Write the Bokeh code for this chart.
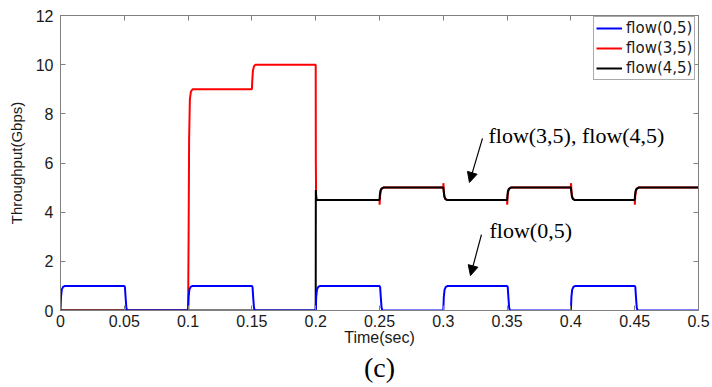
from bokeh.plotting import figure
from bokeh.models import (Range1d, LinearAxis, FixedTicker, Legend, LegendItem,
                          Label, Arrow, NormalHead, Title)
from bokeh.embed import file_html
from bokeh.resources import INLINE

# ---- data -------------------------------------------------------------
# flow(0,5): on/off pulses of 1 Gbps
t_f05 = [0, 0.0004, 0.001, 0.002, 0.0035,
         0.05, 0.0505, 0.051, 0.0516, 0.0522,
         0.1, 0.1004, 0.101, 0.102, 0.1035,
         0.15, 0.1505, 0.151, 0.1516, 0.1522,
         0.2, 0.2004, 0.201, 0.202, 0.2035,
         0.25, 0.2505, 0.251, 0.2516, 0.2522,
         0.3, 0.3004, 0.301, 0.302, 0.3035,
         0.35, 0.3505, 0.351, 0.3516, 0.3522,
         0.4, 0.4004, 0.401, 0.402, 0.4035,
         0.45, 0.4505, 0.451, 0.4516, 0.4522,
         0.5]
v_f05 = [0, 0.55, 0.85, 0.96, 1.0,
         1.0, 0.95, 0.55, 0.12, 0,
         0, 0.55, 0.85, 0.96, 1.0,
         1.0, 0.95, 0.55, 0.12, 0,
         0, 0.55, 0.85, 0.96, 1.0,
         1.0, 0.95, 0.55, 0.12, 0,
         0, 0.55, 0.85, 0.96, 1.0,
         1.0, 0.95, 0.55, 0.12, 0,
         0, 0.55, 0.85, 0.96, 1.0,
         1.0, 0.95, 0.55, 0.12, 0,
         0]

# flow(3,5)
t_f35 = [0, 0.1, 0.1004, 0.1008, 0.1014, 0.1022, 0.1035,
         0.15, 0.1503, 0.1508, 0.1516, 0.1528,
         0.2, 0.2001, 0.2003, 0.2006,
         0.25, 0.2501, 0.2504, 0.2509, 0.2517, 0.253,
         0.3, 0.3001, 0.3004, 0.3009, 0.3016, 0.3029,
         0.35, 0.3501, 0.3504, 0.3509, 0.3517, 0.353,
         0.4, 0.4001, 0.4004, 0.4009, 0.4016, 0.4029,
         0.45, 0.4501, 0.4504, 0.4509, 0.4517, 0.453,
         0.5]
v_f35 = [0, 0, 3.0, 7.0, 8.6, 8.9, 9.0,
         9.0, 9.35, 9.75, 9.93, 10.0,
         10.0, 6.1, 4.7, 4.5,
         4.5, 4.3, 4.62, 4.85, 4.95, 5.0,
         5.0, 5.18, 4.88, 4.64, 4.54, 4.5,
         4.5, 4.3, 4.62, 4.85, 4.95, 5.0,
         5.0, 5.18, 4.88, 4.64, 4.54, 4.5,
         4.5, 4.3, 4.62, 4.85, 4.95, 5.0,
         5.0]

# flow(4,5)
t_f45 = [0, 0.2, 0.2001, 0.2004, 0.2008,
         0.25, 0.2503, 0.2508, 0.2516, 0.253,
         0.3, 0.3003, 0.3008, 0.3015, 0.3028,
         0.35, 0.3503, 0.3508, 0.3516, 0.353,
         0.4, 0.4003, 0.4008, 0.4015, 0.4028,
         0.45, 0.4503, 0.4508, 0.4516, 0.453,
         0.5]
v_f45 = [0, 0, 4.9, 4.6, 4.5,
         4.5, 4.72, 4.88, 4.96, 5.0,
         5.0, 4.85, 4.64, 4.54, 4.5,
         4.5, 4.72, 4.88, 4.96, 5.0,
         5.0, 4.85, 4.64, 4.54, 4.5,
         4.5, 4.72, 4.88, 4.96, 5.0,
         5.0]

x_ticks = [0, 0.05, 0.1, 0.15, 0.2, 0.25, 0.3, 0.35, 0.4, 0.45, 0.5]
x_tick_labels = ["0", "0.05", "0.1", "0.15", "0.2", "0.25", "0.3", "0.35",
                 "0.4", "0.45", "0.5"]
y_ticks = [0, 2, 4, 6, 8, 10, 12]

series_names = ["flow(0,5)", "flow(3,5)", "flow(4,5)"]
note_upper = "flow(3,5), flow(4,5)"
note_lower = "flow(0,5)"
caption = "(c)"

# ---- styling ------------------------------------------------------------
SANS = "Liberation Sans"
SERIF = "Liberation Serif"
FRAME = "#808080"
TEXT = "#1a1a1a"

p = figure(width=712, height=387, output_backend="svg", toolbar_location=None,
           x_range=Range1d(0, 0.5), y_range=Range1d(0, 12),
           min_border_left=60, min_border_right=14,
           min_border_top=15, min_border_bottom=77,
           background_fill_color="white", border_fill_color="white")
p.grid.visible = False
p.outline_line_color = FRAME

xt = FixedTicker(ticks=x_ticks)
yt = FixedTicker(ticks=y_ticks)


def style_axis(ax, show_labels=True):
    ax.axis_line_color = FRAME
    ax.major_tick_line_color = FRAME
    ax.major_tick_in = 5
    ax.major_tick_out = 0
    ax.minor_tick_line_color = None
    ax.major_label_text_font = SANS
    ax.major_label_text_font_size = "16px"
    ax.major_label_text_color = TEXT
    ax.axis_label_text_font = SANS
    ax.axis_label_text_font_style = "normal"
    ax.axis_label_text_color = TEXT
    if not show_labels:
        ax.major_label_text_font_size = "0px"
        ax.major_label_standoff = 0


xa = p.xaxis[0]
xa.ticker = xt
xa.major_label_overrides = {t: s for t, s in zip(x_ticks, x_tick_labels)}
style_axis(xa)
xa.major_label_standoff = 4
xa.axis_label = "Time(sec)"
xa.axis_label_text_font_size = "16px"
xa.axis_label_standoff = -1

ya = p.yaxis[0]
ya.ticker = yt
style_axis(ya)
ya.major_label_standoff = 7
ya.axis_label = "Throughput(Gbps)"
ya.axis_label_text_font_size = "15px"
ya.axis_label_standoff = 8

top = LinearAxis(ticker=xt)
style_axis(top, show_labels=False)
top.major_label_overrides = {t: "" for t in x_ticks}
p.add_layout(top, "above")

right = LinearAxis(ticker=yt)
style_axis(right, show_labels=False)
right.major_label_overrides = {t: "" for t in y_ticks}
p.add_layout(right, "right")

# figure caption under the time axis
p.add_layout(Title(text=caption, align="center", text_font=SERIF,
                   text_font_size="28px", text_font_style="normal",
                   text_color="black", standoff=2, offset=0), "below")

# ---- lines (blue drawn last so it sits on top at zero) -------------------
r35 = p.line(t_f35, v_f35, line_color="#ff0000", line_width=2)
r45 = p.line(t_f45, v_f45, line_color="#000000", line_width=2)
r05 = p.line(t_f05, v_f05, line_color="#0000ff", line_width=2)

legend = Legend(items=[LegendItem(label=series_names[0], renderers=[r05]),
                       LegendItem(label=series_names[1], renderers=[r35]),
                       LegendItem(label=series_names[2], renderers=[r45])],
                location=(533, 230))
legend.label_text_font = "DejaVu Sans"
legend.label_text_font_size = "15px"
legend.label_text_color = TEXT
legend.glyph_width = 26
legend.glyph_height = 16
legend.label_height = 16
legend.label_standoff = 4
legend.spacing = 2
legend.padding = 2
legend.margin = 0
legend.border_line_color = "#555555"
legend.background_fill_color = "white"
legend.background_fill_alpha = 1
p.add_layout(legend, "center")

# ---- annotations -------------------------------------------------------
p.add_layout(Label(x=0.3354, y=7.12, text=note_upper, text_font=SERIF,
                   text_font_size="22px", text_baseline="middle",
                   text_color="black"))
p.add_layout(Label(x=0.3362, y=3.25, text=note_lower, text_font=SERIF,
                   text_font_size="22px", text_baseline="middle",
                   text_color="black"))

head = dict(size=10, fill_color="black", line_color="black")
p.add_layout(Arrow(end=NormalHead(**head), x_start=0.3307, y_start=7.0,
                   x_end=0.3205, y_end=5.21, line_width=1.2, line_color="black"))
p.add_layout(Arrow(end=NormalHead(**head), x_start=0.3299, y_start=3.09,
                   x_end=0.3213, y_end=1.42, line_width=1.2, line_color="black"))

open("out.html", "w").write(file_html(p, INLINE))
